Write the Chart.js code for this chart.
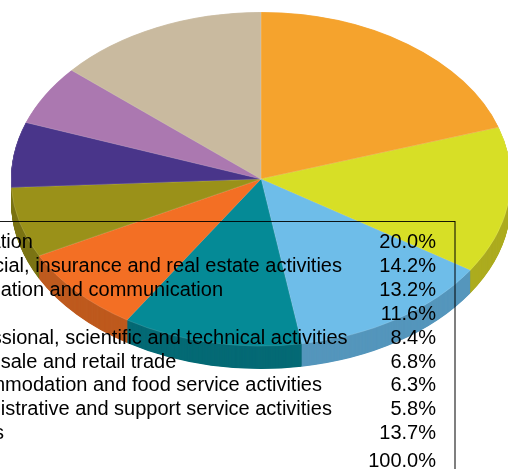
<!DOCTYPE html>
<html>
<head>
<meta charset="utf-8">
<style>
	html, body { margin: 0; padding: 0; background: #fff; overflow: hidden; }
	canvas { display: block; }
</style>
<script src="https://cdn.jsdelivr.net/npm/chart.js@4"></script>
</head>
<body>
<canvas id="pie" width="508" height="469"></canvas>
<script>
const categories = [
	"Education",
	"Financial, insurance and real estate activities",
	"Information and communication",
	"",
	"Professional, scientific and technical activities",
	"Wholesale and retail trade",
	"Accommodation and food service activities",
	"Administrative and support service activities",
	"Others",
];
const shares = [20.0, 14.2, 13.2, 11.6, 8.4, 6.8, 6.3, 5.8, 13.7];
const shareLabels = ["20.0%", "14.2%", "13.2%", "11.6%", "8.4%", "6.8%", "6.3%", "5.8%", "13.7%"];
const totalLabel = "100.0%";
const topColors = ["#F5A32D", "#D7DF26", "#6EBDE9", "#058A96", "#F36F24", "#9A9119", "#49358A", "#AB78B0", "#C9BA9F"];
const sideColors = ["#C4821F", "#ADAC20", "#5596BC", "#056A75", "#BE5A1E", "#7B7414", "#3A2A6E", "#89608D", "#A1957F"];

// the squashed disc: centre, half axes and how far the rim drops
const centerX = 261, centerY = 179, radiusX = 250, radiusY = 167, depth = 23;

const tiltPlugin = {
	id: "tilt",
	beforeDatasetsDraw(chart) {
		const ctx = chart.ctx;
		const arcs = chart.getDatasetMeta(0).data;
		const r = arcs[0].outerRadius;
		ctx.save();
		ctx.translate(centerX, centerY);
		ctx.scale(radiusX / r, radiusY / r);
		ctx.translate(-arcs[0].x, -arcs[0].y);
		// rim: stack of darker copies from the bottom up
		const step = (r / radiusY) * 0.5;
		for (let d = depth * 2; d > 0; d--) {
			arcs.forEach((arc, i) => {
				const saved = arc.options;
				arc.options = Object.assign({}, saved, { backgroundColor: sideColors[i], borderWidth: 0 });
				ctx.save();
				ctx.translate(0, d * step);
				arc.draw(ctx);
				ctx.restore();
				arc.options = saved;
			});
		}
	},
	afterDatasetsDraw(chart) {
		chart.ctx.restore();
	},
	afterDraw(chart) {
		const ctx = chart.ctx;
		// table frame
		ctx.save();
		ctx.strokeStyle = "rgba(0,0,0,0.9)";
		ctx.lineWidth = 1;
		ctx.beginPath();
		ctx.moveTo(0, 221.5);
		ctx.lineTo(455, 221.5);
		ctx.stroke();
		ctx.strokeStyle = "rgba(0,0,0,0.5)";
		ctx.lineWidth = 2;
		ctx.beginPath();
		ctx.moveTo(455, 221);
		ctx.lineTo(455, 469);
		ctx.stroke();
		// table text
		ctx.fillStyle = "#000";
		ctx.font = "20px 'Liberation Sans'";
		ctx.textBaseline = "alphabetic";
		categories.forEach((name, i) => {
			const y = 248 + i * 23.9;
			ctx.textAlign = "left";
			ctx.fillText(name, -56, y);
			ctx.textAlign = "right";
			ctx.fillText(shareLabels[i], 436, y);
		});
		ctx.fillText(totalLabel, 436, 467);
		ctx.restore();
	},
};

new Chart(document.getElementById("pie"), {
	type: "pie",
	data: {
		labels: categories,
		datasets: [
			{
				data: shares,
				backgroundColor: topColors,
				borderColor: "rgba(255,255,255,0.3)",
				borderWidth: 0.5,
				clip: false,
			},
		],
	},
	options: {
		responsive: false,
		animation: false,
		layout: { padding: 0 },
		plugins: {
			legend: { display: false },
			tooltip: { enabled: false },
		},
	},
	plugins: [tiltPlugin],
});
</script>
</body>
</html>
